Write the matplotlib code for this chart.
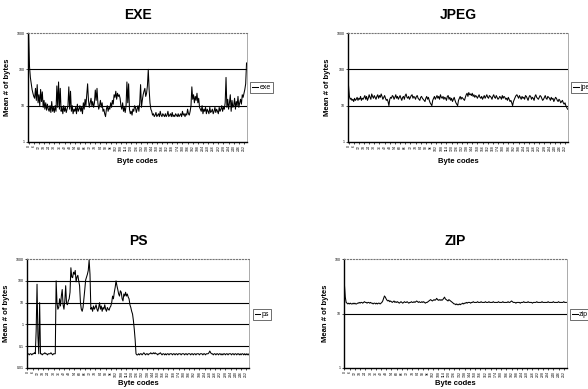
#!/usr/bin/env python3

import matplotlib
matplotlib.use('Agg')
from matplotlib import pyplot as plt

plt.rcParams['font.family'] = ['Liberation Sans', 'DejaVu Sans']

# byte codes 0..255
codes = list(range(256))

# mean number of bytes per byte code
exe_vals = [
    900, 120, 60, 40, 28, 22, 18, 16, 30, 14, 38, 12, 20, 10, 28, 13,
    24, 9, 14, 8, 12, 7.5, 11, 8, 7, 10, 6.5, 13, 7, 9, 6.5, 10,
    7, 35, 9, 45, 8, 30, 7, 9, 6, 10, 7, 9, 6.5, 8, 10, 33,
    8, 25, 7, 10, 6, 8, 7, 9, 6, 11, 7, 8, 10, 7, 9, 6,
    12, 8, 15, 10, 20, 40, 14, 9, 12, 16, 10, 13, 9, 12, 27, 14,
    30, 12, 8, 10, 14, 9, 12, 7, 8, 6, 5, 8, 10, 7, 9, 8,
    12, 9, 14, 11, 20, 17, 25, 15, 22, 18, 20, 16, 10, 8, 12, 7,
    9, 6.5, 10, 45, 12, 40, 8, 6, 7, 5.5, 8, 7, 10, 9, 6.5, 8,
    10, 7, 12, 38, 9, 14, 20, 25, 30, 18, 22, 35, 100, 28, 12, 8,
    7, 5.5, 6, 5, 5.5, 6.5, 5, 5.5, 6, 5, 7, 5.5, 5, 6, 5.5, 5,
    6, 5, 5.5, 7, 5, 5.5, 6, 5, 6.5, 5, 5.5, 5, 6, 5.5, 5, 6,
    5, 5.5, 6, 5, 7, 5.5, 6, 5, 6, 5.5, 8, 6, 5.5, 7, 10, 33,
    15, 20, 12, 18, 14, 22, 12, 16, 9, 8, 7, 10, 6, 8, 7, 9,
    6, 8, 7, 6, 9, 6.5, 7, 8, 6, 7, 9, 6.5, 8, 7, 6, 9,
    7, 8, 10, 7, 9, 8, 12, 60, 9, 15, 8, 12, 20, 7, 14, 9,
    10, 16, 8, 13, 10, 18, 9, 12, 15, 11, 20, 17, 22, 28, 40, 150,
]

jpeg_vals = [
    35, 18, 15, 16, 14, 15, 13, 16, 14, 15, 17, 14, 16, 15, 18, 14,
    16, 15, 17, 19, 15, 18, 14, 16, 20, 17, 15, 21, 18, 16, 19, 17,
    15, 18, 20, 16, 19, 17, 21, 18, 15, 17, 19, 16, 14, 15, 13, 10,
    15, 17, 16, 19, 18, 15, 17, 20, 16, 18, 15, 17, 19, 16, 14, 17,
    18, 15, 19, 21, 17, 16, 18, 15, 17, 19, 20, 16, 18, 17, 15, 18,
    19, 16, 15, 14, 17, 18, 16, 15, 14, 13, 16, 18, 15, 17, 14, 12,
    11, 10, 14, 16, 18, 15, 17, 19, 16, 18, 15, 20, 17, 16, 18, 15,
    17, 16, 14, 18, 19, 15, 17, 14, 16, 13, 15, 17, 14, 12, 11, 10,
    14, 16, 18, 15, 17, 16, 15, 14, 17, 20, 22, 18, 23, 20, 21, 19,
    22, 18, 20, 17, 19, 18, 16, 18, 20, 17, 16, 18, 15, 17, 19, 16,
    18, 20, 17, 16, 19, 18, 17, 15, 18, 20, 17, 16, 19, 17, 15, 16,
    18, 17, 15, 19, 16, 18, 17, 15, 16, 14, 17, 15, 13, 14, 12, 10,
    13, 15, 17, 19, 20, 18, 16, 19, 17, 15, 18, 16, 17, 15, 19, 18,
    16, 14, 17, 19, 18, 15, 17, 16, 14, 18, 20, 17, 16, 15, 17, 19,
    18, 16, 14, 15, 17, 19, 16, 15, 18, 17, 16, 14, 17, 15, 16, 13,
    15, 17, 16, 14, 13, 15, 14, 12, 13, 14, 12, 11, 12, 10, 9, 8,
]

ps_vals = [
    0.045, 0.045, 0.04, 0.045, 0.045, 0.04, 0.045, 0.045, 0.05, 0.045, 0.5, 70, 0.3, 0.045, 10, 0.045,
    0.045, 0.04, 0.045, 0.045, 0.05, 0.045, 0.045, 0.04, 0.045, 0.045, 0.045, 0.05, 0.045, 0.04, 0.045, 0.045,
    0.045, 100, 10, 5, 6, 15, 7, 20, 40, 8, 5, 12, 60, 9, 8, 12,
    15, 30, 400, 150, 140, 250, 200, 300, 90, 150, 180, 100, 60, 10, 5, 4,
    6, 15, 40, 110, 150, 200, 300, 900, 200, 5, 6, 4, 7, 5, 6, 8,
    5, 4, 6, 10, 5, 7, 4, 6, 5, 8, 5, 4, 6, 5, 4.5, 6,
    7, 10, 20, 15, 30, 50, 100, 60, 40, 25, 20, 35, 30, 15, 12, 25,
    20, 30, 20, 25, 18, 15, 8, 6, 4, 3, 1.5, 0.6, 0.2, 0.045, 0.04, 0.04,
    0.045, 0.04, 0.045, 0.045, 0.04, 0.045, 0.05, 0.045, 0.04, 0.045, 0.045, 0.04, 0.045, 0.045, 0.05, 0.045,
    0.045, 0.05, 0.045, 0.05, 0.045, 0.045, 0.04, 0.045, 0.045, 0.05, 0.045, 0.04, 0.045, 0.045, 0.04, 0.045,
    0.04, 0.045, 0.045, 0.04, 0.045, 0.045, 0.045, 0.04, 0.045, 0.045, 0.04, 0.045, 0.045, 0.04, 0.045, 0.045,
    0.045, 0.04, 0.045, 0.045, 0.045, 0.04, 0.045, 0.045, 0.04, 0.045, 0.045, 0.045, 0.04, 0.045, 0.045, 0.04,
    0.045, 0.045, 0.04, 0.045, 0.045, 0.045, 0.04, 0.045, 0.045, 0.045, 0.04, 0.045, 0.045, 0.04, 0.045, 0.045,
    0.045, 0.05, 0.06, 0.05, 0.045, 0.045, 0.04, 0.045, 0.045, 0.04, 0.045, 0.045, 0.04, 0.045, 0.045, 0.04,
    0.045, 0.04, 0.045, 0.045, 0.04, 0.045, 0.045, 0.04, 0.045, 0.045, 0.045, 0.04, 0.045, 0.045, 0.04, 0.045,
    0.045, 0.04, 0.045, 0.045, 0.04, 0.045, 0.04, 0.045, 0.045, 0.04, 0.045, 0.04, 0.045, 0.04, 0.045, 0.04,
]

zip_vals = [
    34, 20, 16, 15.5, 15, 15.5, 15, 15.5, 15, 15, 15.5, 15, 15.5, 15, 15, 15.5,
    15.5, 16, 15.5, 16, 16, 15.5, 16, 16.5, 16, 16, 15.5, 16, 16, 15.5, 16, 15.5,
    15.5, 15, 15.5, 15.5, 15, 15.5, 15, 15.5, 15.5, 15, 15.5, 16, 17, 19, 21, 20,
    18.5, 17.5, 17, 17.5, 16.5, 17, 16.5, 16, 16.5, 17, 16, 16.5, 16, 16.5, 16, 15.5,
    16, 16.5, 16, 15.5, 16, 16.5, 16, 16, 16.5, 16, 15.5, 16, 16, 16.5, 16, 16,
    16.5, 16, 16.5, 17, 16.5, 16, 16.5, 16, 16, 16.5, 16, 16.5, 16, 15.5, 16, 16,
    16.5, 17, 17.5, 18, 17.5, 17, 17.5, 18, 17.5, 18, 19, 18, 17.5, 18, 17.5, 18,
    17.5, 18, 19, 20, 18.5, 18, 17.5, 17, 18, 17.5, 17, 16.5, 16, 15.5, 15, 15,
    14.5, 15, 14.5, 14.5, 15, 14.5, 15, 15, 15.5, 15, 15.5, 15.5, 16, 15.5, 16, 16,
    16, 15.5, 16, 16, 16.5, 16, 16, 16, 16, 16.5, 16, 16, 16, 16.5, 16, 16,
    16, 16, 16.5, 16, 16, 16, 16.5, 16, 16, 16, 16, 16.5, 16, 16, 16, 16,
    16, 16.5, 16, 16, 16, 16, 16.5, 16, 16, 16, 16, 16, 16.5, 16, 16, 16.5,
    17, 16.5, 16, 16, 16, 15.5, 16, 16, 16, 16, 15.5, 16, 16, 16, 16.5, 16,
    16, 16, 16, 16.5, 16, 16, 16, 16, 15.5, 16, 16, 16, 16, 16.5, 16, 16,
    16, 16, 16, 16.5, 16, 16, 16, 16, 16, 16, 16.5, 16, 16, 16, 16, 16,
    16.5, 16, 16, 16, 16, 16, 16.5, 16, 16, 16, 16, 16, 16.5, 16, 16, 16,
]

xtick_codes = list(range(0, 256, 6))
yticks_1k = [1, 10, 100, 1000]
ylabels_1k = ['1', '10', '100', '1000']
yticks_ps = [0.01, 0.1, 1, 10, 100, 1000]
ylabels_ps = ['0.01', '0.1', '1', '10', '100', '1000']
yticks_zip = [1, 10, 100]
ylabels_zip = ['1', '10', '100']


def plot_panel(rect, vals, title, label, yticks, ylabels, leg_pos, xpad):
    ax = fig.add_axes(rect)
    ax.set_yscale('log')
    ax.set_ylim(yticks[0], yticks[-1])
    ax.set_xlim(-0.5, 255.5)

    # black gridlines on the inner decades
    for y in yticks[1:-1]:
        ax.axhline(y, color='black', linewidth=0.8, zorder=1)

    ax.plot(codes, vals, color='black', linewidth=0.75, label=label, zorder=3)

    ax.set_yticks(yticks)
    ax.set_yticklabels(ylabels)
    ax.minorticks_off()
    ax.set_xticks(xtick_codes)
    ax.set_xticklabels([str(c) for c in xtick_codes], rotation=90)
    ax.tick_params(axis='both', labelsize=2.5, length=1.5, width=0.5, pad=1)

    ax.spines['left'].set_linewidth(1.0)
    ax.spines['bottom'].set_linewidth(1.0)
    ax.spines['top'].set_linestyle(':')
    ax.spines['top'].set_color('#777777')
    ax.spines['top'].set_linewidth(0.8)
    ax.spines['right'].set_color('#888888')
    ax.spines['right'].set_linewidth(0.5)

    ax.set_title(title, fontsize=10, fontweight='bold', pad=10)
    ax.set_xlabel('Byte codes', fontsize=5.5, fontweight='bold', labelpad=xpad)
    ax.set_ylabel('Mean # of bytes', fontsize=5.5, fontweight='bold', labelpad=4)

    leg = ax.legend(loc='center left', bbox_to_anchor=leg_pos, fontsize=5,
                    frameon=True, fancybox=False, handlelength=0.8,
                    borderpad=0.3, handletextpad=0.2, borderaxespad=0)
    leg.get_frame().set_edgecolor('black')
    leg.get_frame().set_linewidth(0.5)
    return ax


# setting up the figure
fig = plt.figure(figsize=(5.88, 3.89), dpi=100)

plot_panel([0.048, 0.635, 0.372, 0.280], exe_vals, 'EXE', 'exe', yticks_1k, ylabels_1k, (1.015, 0.5), 5)
plot_panel([0.592, 0.635, 0.374, 0.280], jpeg_vals, 'JPEG', 'jpeg', yticks_1k, ylabels_1k, (1.015, 0.5), 5)
plot_panel([0.046, 0.054, 0.378, 0.280], ps_vals, 'PS', 'ps', yticks_ps, ylabels_ps, (1.015, 0.49), 2)
plot_panel([0.585, 0.054, 0.379, 0.280], zip_vals, 'ZIP', 'zip', yticks_zip, ylabels_zip, (1.015, 0.49), 2)

fig.savefig('out.png', dpi=100)
